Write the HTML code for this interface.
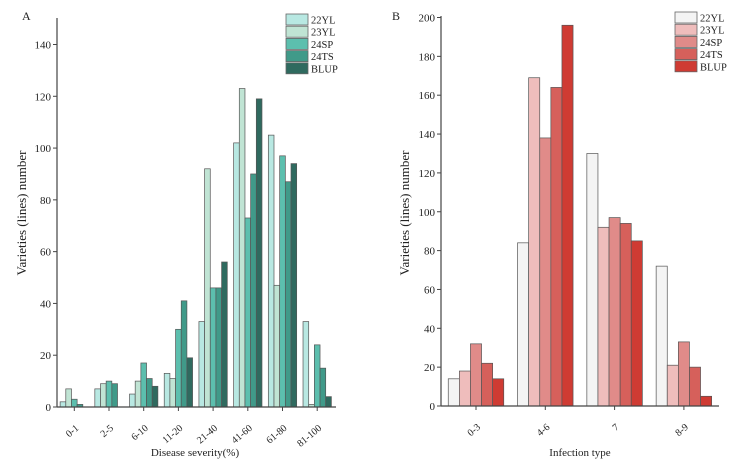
<!DOCTYPE html>
<html><head><meta charset="utf-8"><style>
html,body{margin:0;padding:0;background:#fff;}
svg{display:block;font-family:"Liberation Serif",serif;}
</style></head><body>
<svg id="c" width="738" height="468" viewBox="0 0 738 468" xmlns="http://www.w3.org/2000/svg"></svg>
<script>
const seriesNames = ["22YL","23YL","24SP","24TS","BLUP"];
const catsA = ["0-1","2-5","6-10","11-20","21-40","41-60","61-80","81-100"];
const a22YL = [2,7,5,13,33,102,105,33];
const a23YL = [7,9,10,11,92,123,47,1];
const a24SP = [3,10,17,30,46,73,97,24];
const a24TS = [1,9,11,41,46,90,87,15];
const aBLUP = [0,0,8,19,56,119,94,4];
const ticksA = [0,20,40,60,80,100,120,140];
const catsB = ["0-3","4-6","7","8-9"];
const b22YL = [14,84,130,72];
const b23YL = [18,169,92,21];
const b24SP = [32,138,97,33];
const b24TS = [22,164,94,20];
const bBLUP = [14,196,85,5];
const ticksB = [0,20,40,60,80,100,120,140,160,180,200];

const colA = ["#b8e8e2","#c0e4d4","#5cbfae","#409a89","#2f6a5f"];
const colB = ["#f4f4f4","#efbdbc","#e08b89","#d6605b","#cf3b33"];
const NS="http://www.w3.org/2000/svg";
const svg=document.getElementById('c');
function mk(tag,attrs,parent){const e=document.createElementNS(NS,tag);for(const k in attrs)e.setAttribute(k,attrs[k]);(parent||svg).appendChild(e);return e;}

function panel(cfg){
  const g=mk('g',{});
  
  
  const y=v=>cfg.y0-(v/cfg.ymax)*(cfg.y0-cfg.yTopVal);
  const xc=i=>cfg.xFirst+i*cfg.step;
  cfg.series.forEach((arr,s)=>{
    arr.forEach((v,i)=>{
      const bx=xc(i)-cfg.bw*2.5+s*cfg.bw;
      const r=mk('rect',{x:bx,y:y(v),width:cfg.bw,height:Math.max(0,cfg.y0-y(v)),fill:cfg.colors[s],stroke:"#555","stroke-width":0.7},g);
      
      
    });
  });
  const ya=mk('line',{x1:cfg.ax,y1:cfg.yTop,x2:cfg.ax,y2:cfg.y0,stroke:"#444","stroke-width":1.2},g);
  
  
  const xa=mk('line',{x1:cfg.ax,y1:cfg.y0,x2:cfg.xEnd,y2:cfg.y0,stroke:"#444","stroke-width":1.2},g);
  
  
  cfg.ticks.forEach(t=>{
    mk('line',{x1:cfg.ax-4,y1:y(t),x2:cfg.ax,y2:y(t),stroke:"#444","stroke-width":1},g);
    const tx=mk('text',{x:cfg.ax-6,y:y(t)+4,"text-anchor":"end","font-size":11,fill:"#222"},g);
    tx.textContent=t;
    
    
  });
  cfg.cats.forEach((c,i)=>{
    mk('line',{x1:xc(i),y1:cfg.y0,x2:xc(i),y2:cfg.y0+4,stroke:"#444","stroke-width":1},g);
    const lx=xc(i)+5, ly=cfg.y0+22;
    const tx=mk('text',{x:lx,y:ly,"text-anchor":"end","font-size":10,fill:"#222",transform:`rotate(-40 ${lx} ${ly})`},g);
    tx.textContent=c;
    
    
  });
  const xt=mk('text',{x:cfg.xTitleX,y:456,"text-anchor":"middle","font-size":11,fill:"#222"},g);
  xt.textContent=cfg.xTitle;
  
  
  const yt=mk('text',{x:0,y:0,"text-anchor":"middle","font-size":13,fill:"#222",transform:`translate(${cfg.yTitleX},213) rotate(-90)`},g);
  yt.textContent="Varieties (lines) number";
  
  
  const pl=mk('text',{x:cfg.labelX,y:20,"font-size":12,fill:"#222"},g);
  pl.textContent=cfg.label;
  
  
  seriesNames.forEach((n,s)=>{
    const ly=cfg.legY+s*12.2;
    const r=mk('rect',{x:cfg.legX,y:ly,width:22,height:11,fill:cfg.colors[s],stroke:"#666","stroke-width":0.8},g);
    
    
    const t=mk('text',{x:cfg.legX+25,y:ly+9.5,"font-size":10.5,fill:"#222"},g);
    t.textContent=n;
    
    
  });
}
panel({name:'chart-a',cats:catsA,series:[a22YL,a23YL,a24SP,a24TS,aBLUP],colors:colA,ticks:ticksA,
  ax:57,yTop:18,y0:407,ymax:140,yTopVal:44.5,xFirst:74.3,step:34.7,bw:5.67,xEnd:336,
  xTitle:"Disease severity(%)",xTitleX:195,yTitleX:26,label:"A",labelX:22,legX:286,legY:14});
panel({name:'chart-b',cats:catsB,series:[b22YL,b23YL,b24SP,b24TS,bBLUP],colors:colB,ticks:ticksB,
  ax:441,yTop:16,y0:406,ymax:200,yTopVal:17.5,xFirst:476,step:69.3,bw:11.1,xEnd:719,
  xTitle:"Infection type",xTitleX:580,yTitleX:409,label:"B",labelX:392,legX:675,legY:12});
</script>
</body></html>
